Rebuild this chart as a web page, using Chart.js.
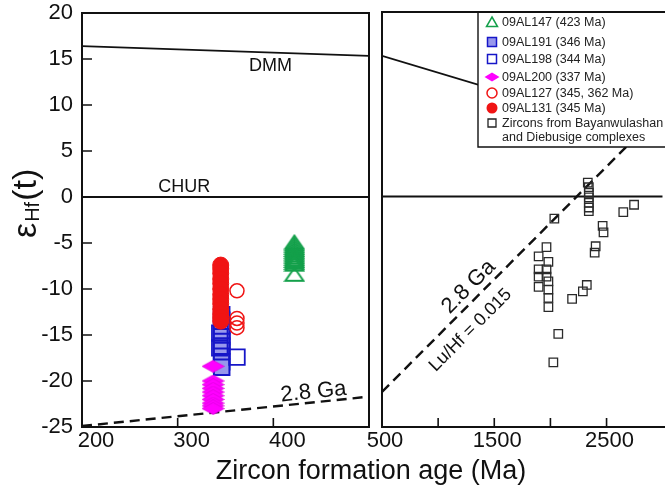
<!DOCTYPE html>
<html>
<head>
<meta charset="utf-8">
<script src="https://cdn.jsdelivr.net/npm/chart.js@4.4.1/dist/chart.umd.min.js"></script>
<style>
  html, body { margin: 0; padding: 0; background: #fff; }
  #wrap { position: relative; width: 665px; height: 487px; overflow: hidden; background: #fff; }
  #leftChart { position: absolute; left: 0; top: 0; }
  #rightChart { position: absolute; left: 360px; top: 0; }
</style>
</head>
<body>
<div id="wrap">
  <canvas id="leftChart" width="665" height="487" style="width:665px;height:487px"></canvas>
  <canvas id="rightChart" width="310" height="487" style="width:310px;height:487px"></canvas>
</div>
<script>
/* ---- data: age (Ma), eHf(t) ---- */
const hfTicks = [20, 15, 10, 5, 0, -5, -10, -15, -20, -25];
const ageTicksLeft = [200, 300, 400, 500];
const ageTicksRight = [500, 1000, 1500, 2000, 2500];
const ageLabelsRight = ['500', '', '1500', '', '2500'];

const age147 = 422;
const hf147 = [-4.9, -5.1, -5.3, -5.5, -5.7, -5.9, -6.1, -6.3, -6.5, -6.7, -6.9, -7.1, -7.3, -8.4];
const age191 = 346;
const hf191 = [-12.8, -13.4, -14.0, -14.6, -15.2, -15.7, -16.2, -16.7, -17.3, -17.9, -18.5];
const age198 = [344, 344, 362];
const hf198 = [-14.8, -16.4, -17.4];
const age200 = 337;
const hf200 = [-18.4, -20.0, -20.4, -20.8, -21.2, -21.6, -22.0, -22.4, -22.7, -23.0];
const age127 = [362, 362, 362, 362];
const hf127 = [-10.2, -13.2, -13.7, -14.2];
const age131 = 345;
const hf131 = [-7.4, -7.8, -8.3, -8.9, -9.4, -10.0, -10.6, -11.1, -11.6, -12.2, -12.7, -13.1, -13.5];

// Bayanwulashan / Diebusige zircons
const zirconAge = [2333, 2342, 2342, 2342, 2342, 2342, 2342, 2649, 2745, 2035, 2465, 2473, 2403, 2394,
                   1965, 1895, 1982, 1895, 1895, 1965, 1965, 1895, 1982, 1982, 1982, 1982, 2324, 2289, 2193, 2070, 2026];
const zirconHf = [1.5, 1.0, 0.4, -0.1, -0.7, -1.2, -1.6, -1.7, -0.9, -2.4, -3.2, -3.9, -5.4, -6.1,
                  -5.5, -6.5, -7.1, -7.9, -8.7, -7.9, -8.7, -9.8, -9.2, -10.1, -11.0, -12.0, -9.6, -10.3, -11.1, -14.9, -18.0];

// reference lines
const dmmAgeL = [200, 500], dmmHfL = [16.4, 15.35];
const dmmAgeR = [500, 3000], dmmHfR = [15.25, 6.1];
const churAgeL = [200, 500], churAgeR = [500, 3000], churHf = [0, 0];
const crustAgeL = [200, 500], crustHfL = [-24.9, -21.7];
const crustAgeR = [500, 2800], crustHfR = [-21.2, 6.9];

/* ---- helpers ---- */
const FONT = '"Liberation Sans", Arial, sans-serif';
const GREEN = '#14a04b', BLUE = '#1616c8', LIGHTBLUE = 'rgb(152,152,236)', MAGENTA = '#ff00ff', RED = '#f01414';

const pts = (ages, hfs) => hfs.map((v, i) => ({ x: Array.isArray(ages) ? ages[i] : ages, y: v }));

function diamondImg(w, h) {
  const c = document.createElement('canvas');
  c.width = w; c.height = h;
  const g = c.getContext('2d');
  g.beginPath();
  g.moveTo(w / 2, 0.5); g.lineTo(w - 0.5, h / 2); g.lineTo(w / 2, h - 0.5); g.lineTo(0.5, h / 2);
  g.closePath();
  g.fillStyle = MAGENTA; g.fill();
  g.strokeStyle = '#e000e0'; g.lineWidth = 0.8; g.stroke();
  return c;
}
function triangleImg(w, h, lw) {
  const c = document.createElement('canvas');
  c.width = w; c.height = h;
  const g = c.getContext('2d');
  g.beginPath();
  g.moveTo(w / 2, lw); g.lineTo(w - lw, h - lw); g.lineTo(lw, h - lw);
  g.closePath();
  g.strokeStyle = GREEN; g.lineWidth = lw; g.stroke();
  return c;
}

function lineSet(ages, hfs, dash, width) {
  return {
    data: pts(ages, hfs), showLine: true, pointRadius: 0,
    borderColor: '#111', borderWidth: width, borderDash: dash, fill: false
  };
}

function fixTicks(values) {
  return scale => { scale.ticks = values.map(v => ({ value: v })); };
}
// keep the plot area where it is: no extra label padding
function fixSize(prop, size) {
  return s => {
    s[prop] = size;
    s.paddingTop = 0; s.paddingBottom = 0; s.paddingLeft = 0; s.paddingRight = 0;
  };
}

/* ---- left panel plugin: frame, inward ticks, titles, labels ---- */
const leftDecor = {
  id: 'leftDecor',
  afterDraw(chart) {
    const { ctx, chartArea: a, scales: { x, y } } = chart;
    ctx.save();
    ctx.strokeStyle = '#111';
    ctx.lineWidth = 2;
    ctx.strokeRect(a.left, a.top, a.right - a.left, a.bottom - a.top);
    ctx.lineWidth = 1.6;
    ctx.beginPath();
    hfTicks.forEach(v => {
      if (v > -25 && v < 20) { const py = y.getPixelForValue(v); ctx.moveTo(a.left, py); ctx.lineTo(a.left + 10, py); }
    });
    ageTicksLeft.forEach(v => {
      if (v > 200 && v < 500) { const px = x.getPixelForValue(v); ctx.moveTo(px, a.bottom); ctx.lineTo(px, a.bottom - 9); }
    });
    ctx.stroke();

    ctx.fillStyle = '#111';
    // x title
    ctx.font = '27px ' + FONT;
    ctx.textAlign = 'center';
    ctx.textBaseline = 'alphabetic';
    ctx.fillText('Zircon formation age (Ma)', 371, 479);

    // y title  εHf(t)
    ctx.save();
    ctx.translate(36, 238);
    ctx.rotate(-Math.PI / 2);
    ctx.textAlign = 'left';
    ctx.font = '34px ' + FONT;
    ctx.fillText('ε', 0, 0);
    let w = ctx.measureText('ε').width + 1;
    ctx.font = '20px ' + FONT;
    ctx.fillText('Hf', w, 3);
    w += ctx.measureText('Hf').width + 1;
    ctx.font = '34px ' + FONT;
    ctx.fillText('(t)', w, 0);
    ctx.restore();

    // line labels
    ctx.textBaseline = 'middle';
    ctx.font = '18px ' + FONT;
    ctx.fillText('DMM', x.getPixelForValue(397), y.getPixelForValue(14.2));
    ctx.fillText('CHUR', x.getPixelForValue(307), y.getPixelForValue(1.1));
    const ang = Math.atan2(y.getPixelForValue(crustHfL[1]) - y.getPixelForValue(crustHfL[0]),
                           x.getPixelForValue(crustAgeL[1]) - x.getPixelForValue(crustAgeL[0]));
    ctx.save();
    ctx.translate(x.getPixelForValue(442), y.getPixelForValue(-21.2));
    ctx.rotate(ang);
    ctx.font = '22px ' + FONT;
    ctx.fillText('2.8 Ga', 0, 0);
    ctx.restore();
    ctx.restore();
  }
};

/* ---- right panel plugins ---- */
const legendRows = [
  { label: '09AL147 (423 Ma)', y: 22, sym: 'tri' },
  { label: '09AL191 (346 Ma)', y: 42, sym: 'sqFill' },
  { label: '09AL198 (344 Ma)', y: 59, sym: 'sqOpen' },
  { label: '09AL200 (337 Ma)', y: 77, sym: 'diamond' },
  { label: '09AL127 (345, 362 Ma)', y: 93, sym: 'circOpen' },
  { label: '09AL131 (345 Ma)', y: 108, sym: 'circFill' },
  { label: 'Zircons from Bayanwulashan', y: 123, sym: 'sqBlack' },
  { label: 'and Diebusige complexes', y: 137, sym: null }
];

function drawSymbol(ctx, sym, cx, cy) {
  ctx.beginPath();
  if (sym === 'tri') {
    ctx.moveTo(cx, cy - 5); ctx.lineTo(cx + 5.5, cy + 4.5); ctx.lineTo(cx - 5.5, cy + 4.5); ctx.closePath();
    ctx.strokeStyle = GREEN; ctx.lineWidth = 1.5; ctx.stroke();
  } else if (sym === 'sqFill') {
    ctx.rect(cx - 4.5, cy - 4.5, 9, 9);
    ctx.fillStyle = LIGHTBLUE; ctx.fill();
    ctx.strokeStyle = BLUE; ctx.lineWidth = 1.5; ctx.stroke();
  } else if (sym === 'sqOpen') {
    ctx.rect(cx - 4.5, cy - 4.5, 9, 9);
    ctx.strokeStyle = BLUE; ctx.lineWidth = 1.5; ctx.stroke();
  } else if (sym === 'diamond') {
    ctx.moveTo(cx - 7.5, cy); ctx.lineTo(cx, cy - 4.5); ctx.lineTo(cx + 7.5, cy); ctx.lineTo(cx, cy + 4.5); ctx.closePath();
    ctx.fillStyle = MAGENTA; ctx.fill();
  } else if (sym === 'circOpen') {
    ctx.arc(cx, cy, 5, 0, Math.PI * 2);
    ctx.strokeStyle = RED; ctx.lineWidth = 1.5; ctx.stroke();
  } else if (sym === 'circFill') {
    ctx.arc(cx, cy, 5.5, 0, Math.PI * 2);
    ctx.fillStyle = RED; ctx.fill();
  } else if (sym === 'sqBlack') {
    ctx.rect(cx - 4, cy - 4, 8, 8);
    ctx.strokeStyle = '#222'; ctx.lineWidth = 1.3; ctx.stroke();
  }
}

const rightDecor = {
  id: 'rightDecor',
  afterDatasetsDraw(chart) {
    const { ctx, chartArea: a } = chart;
    const left = a.left + 96, bottom = 147;
    ctx.save();
    ctx.fillStyle = '#fff';
    ctx.fillRect(left, a.top, chart.width - left + 5, bottom - a.top);
    ctx.strokeStyle = '#111';
    ctx.lineWidth = 1.4;
    ctx.beginPath();
    ctx.moveTo(left, a.top); ctx.lineTo(left, bottom); ctx.lineTo(chart.width + 5, bottom);
    ctx.stroke();
    ctx.font = '12.5px ' + FONT;
    ctx.textAlign = 'left';
    ctx.textBaseline = 'middle';
    legendRows.forEach(r => {
      if (r.sym) drawSymbol(ctx, r.sym, a.left + 110, r.y);
      ctx.fillStyle = '#222';
      ctx.fillText(r.label, a.left + 120, r.y + 0.5);
    });
    ctx.restore();
  },
  afterDraw(chart) {
    const { ctx, chartArea: a, scales: { x, y } } = chart;
    ctx.save();
    ctx.strokeStyle = '#111';
    ctx.lineWidth = 2;
    ctx.beginPath();
    ctx.moveTo(chart.width + 5, a.top); ctx.lineTo(a.left, a.top); ctx.lineTo(a.left, a.bottom); ctx.lineTo(chart.width + 5, a.bottom);
    ctx.stroke();
    ctx.lineWidth = 1.6;
    ctx.beginPath();
    ageTicksRight.forEach(v => {
      if (v > 500) { const px = x.getPixelForValue(v); ctx.moveTo(px, a.bottom); ctx.lineTo(px, a.bottom - 9); }
    });
    ctx.stroke();

    const ang = Math.atan2(y.getPixelForValue(crustHfR[1]) - y.getPixelForValue(crustHfR[0]),
                           x.getPixelForValue(crustAgeR[1]) - x.getPixelForValue(crustAgeR[0]));
    ctx.fillStyle = '#111';
    ctx.textAlign = 'center';
    ctx.textBaseline = 'middle';
    ctx.save();
    ctx.translate(x.getPixelForValue(1272), y.getPixelForValue(-9.8));
    ctx.rotate(ang);
    ctx.font = '22px ' + FONT;
    ctx.fillText('2.8 Ga', 0, 0);
    ctx.restore();
    ctx.save();
    ctx.translate(x.getPixelForValue(1289), y.getPixelForValue(-14.5));
    ctx.rotate(ang);
    ctx.font = '18px ' + FONT;
    ctx.fillText('Lu/Hf = 0.015', 0, 0);
    ctx.restore();
    ctx.restore();
  }
};

/* ---- charts ---- */
const tickFont = { family: FONT, size: 22, lineHeight: 1 };

new Chart(document.getElementById('leftChart'), {
  type: 'scatter',
  data: {
    datasets: [
      { data: pts(age131, hf131), pointStyle: 'circle', pointRadius: 8, backgroundColor: RED, borderColor: RED, borderWidth: 1 },
      { data: pts(age127, hf127), pointStyle: 'circle', pointRadius: 7, backgroundColor: 'rgba(0,0,0,0)', borderColor: RED, borderWidth: 1.5 },
      { data: pts(age200, hf200), pointStyle: diamondImg(23, 13), pointRadius: 8 },
      { data: pts(age198, hf198), pointStyle: 'rect', pointRadius: 11, backgroundColor: 'rgba(0,0,0,0)', borderColor: BLUE, borderWidth: 1.8 },
      { data: pts(age191, hf191), pointStyle: 'rect', pointRadius: 11, backgroundColor: LIGHTBLUE, borderColor: BLUE, borderWidth: 2 },
      { data: pts(age147, hf147), pointStyle: triangleImg(22, 17, 2), pointRadius: 8 },
      lineSet(dmmAgeL, dmmHfL, [], 1.8),
      lineSet(churAgeL, churHf, [], 2),
      lineSet(crustAgeL, crustHfL, [10, 6], 2.4)
    ]
  },
  options: {
    responsive: false,
    animation: false,
    events: [],
    layout: { padding: { left: 0, top: 12, right: 296, bottom: 0 } },
    plugins: { legend: { display: false }, tooltip: { enabled: false } },
    scales: {
      x: {
        type: 'linear', min: 200, max: 500,
        afterBuildTicks: fixTicks(ageTicksLeft),
        afterFit: fixSize('height', 60),
        grid: { display: false, drawTicks: false },
        border: { display: false },
        ticks: {
          font: tickFont, color: '#111', padding: 3, labelOffset: 14, maxRotation: 0, autoSkip: false,
          callback: v => (v === 500 ? '' : String(v))
        }
      },
      y: {
        type: 'linear', min: -25, max: 20,
        afterBuildTicks: fixTicks(hfTicks),
        afterFit: fixSize('width', 82),
        grid: { display: false, drawTicks: false },
        border: { display: false },
        ticks: { font: tickFont, color: '#111', padding: 9, autoSkip: false }
      }
    }
  },
  plugins: [leftDecor]
});

new Chart(document.getElementById('rightChart'), {
  type: 'scatter',
  data: {
    datasets: [
      { data: pts(zirconAge, zirconHf), pointStyle: 'rect', pointRadius: 6, backgroundColor: 'rgba(0,0,0,0)', borderColor: '#2a2a2a', borderWidth: 1.3 },
      lineSet(dmmAgeR, dmmHfR, [], 1.8),
      lineSet(churAgeR, churHf, [], 2),
      lineSet(crustAgeR, crustHfR, [10, 6], 2.4)
    ]
  },
  options: {
    responsive: false,
    animation: false,
    events: [],
    layout: { padding: { left: 0, top: 12, right: 0, bottom: 0 } },
    plugins: { legend: { display: false }, tooltip: { enabled: false } },
    scales: {
      x: {
        type: 'linear', min: 500, max: 3000,
        afterBuildTicks: fixTicks(ageTicksRight),
        afterFit: fixSize('height', 60),
        grid: { display: false, drawTicks: false },
        border: { display: false },
        ticks: {
          font: tickFont, color: '#111', padding: 3, labelOffset: 3, maxRotation: 0, autoSkip: false,
          callback: (v, i) => ageLabelsRight[i]
        }
      },
      y: {
        type: 'linear', min: -25, max: 20,
        afterFit: fixSize('width', 22),
        grid: { display: false, drawTicks: false },
        border: { display: false },
        ticks: { display: false }
      }
    }
  },
  plugins: [rightDecor]
});
</script>
</body>
</html>
